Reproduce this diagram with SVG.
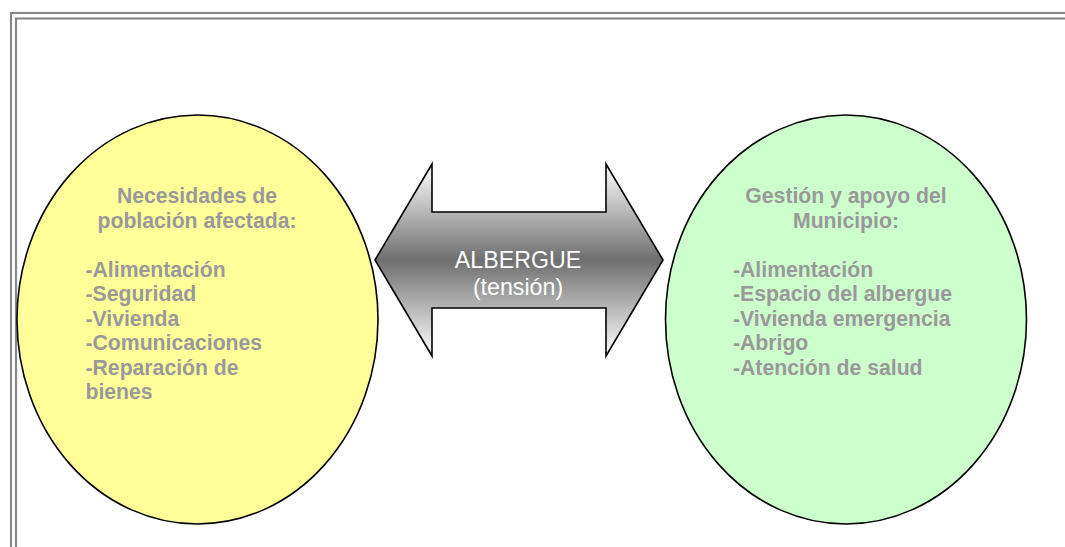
<svg xmlns="http://www.w3.org/2000/svg" width="1065" height="547" viewBox="0 0 1065 547">
<defs>
<linearGradient id="arrowGrad" x1="0" y1="164" x2="0" y2="356" gradientUnits="userSpaceOnUse">
<stop offset="0" stop-color="#ffffff"/>
<stop offset="0.5" stop-color="#6f6f6f"/>
<stop offset="1" stop-color="#ffffff"/>
</linearGradient>
<style>
.frame{fill:none;stroke:#888888;stroke-width:2.2}
.node{stroke:#000000;stroke-width:1.6}
.lbl{font-family:"Liberation Sans",Arial,sans-serif;font-weight:bold;font-size:21.2px;fill:#999999}
.mid{font-family:"Liberation Sans",Arial,sans-serif;font-size:23.2px;fill:#ffffff;text-anchor:middle}
</style>
</defs>
<rect width="1065" height="547" fill="#ffffff"/>
<g id="frame">
<rect class="frame" x="11" y="13" width="1070" height="560"/>
<rect class="frame" x="16" y="18.5" width="1070" height="560"/>
</g>
<g id="node-necesidades">
<ellipse class="node" cx="197.5" cy="319.5" rx="180.5" ry="204.5" fill="#ffff99"/>
<text class="lbl" text-anchor="middle" x="197" y="203">Necesidades de</text>
<text class="lbl" text-anchor="middle" x="197" y="227.5">población afectada:</text>
<text class="lbl" x="85.5" y="276.5">-Alimentación</text>
<text class="lbl" x="85.5" y="301">-Seguridad</text>
<text class="lbl" x="85.5" y="325.5">-Vivienda</text>
<text class="lbl" x="85.5" y="350">-Comunicaciones</text>
<text class="lbl" x="85.5" y="374.5">-Reparación de</text>
<text class="lbl" x="85.5" y="399">bienes</text>
</g>
<g id="node-gestion">
<ellipse class="node" cx="846" cy="319.5" rx="180.5" ry="204.5" fill="#ccffcc"/>
<text class="lbl" text-anchor="middle" x="846" y="203">Gestión y apoyo del</text>
<text class="lbl" text-anchor="middle" x="846" y="227.5">Municipio:</text>
<text class="lbl" x="733" y="276.5">-Alimentación</text>
<text class="lbl" x="733" y="301">-Espacio del albergue</text>
<text class="lbl" x="733" y="325.5">-Vivienda emergencia</text>
<text class="lbl" x="733" y="350">-Abrigo</text>
<text class="lbl" x="733" y="374.5">-Atención de salud</text>
</g>
<g id="connectors">
<g id="albergue-arrow">
<path d="M375,260 L432,164 L432,212 L606,212 L606,164 L663,260 L606,356 L606,308 L432,308 L432,356 Z" fill="url(#arrowGrad)" stroke="#000000" stroke-width="1.6" stroke-linejoin="miter"/>
<text class="mid" x="518" y="267.5">ALBERGUE</text>
<text class="mid" x="518" y="294.5">(tensión)</text>
</g>
</g>
</svg>
